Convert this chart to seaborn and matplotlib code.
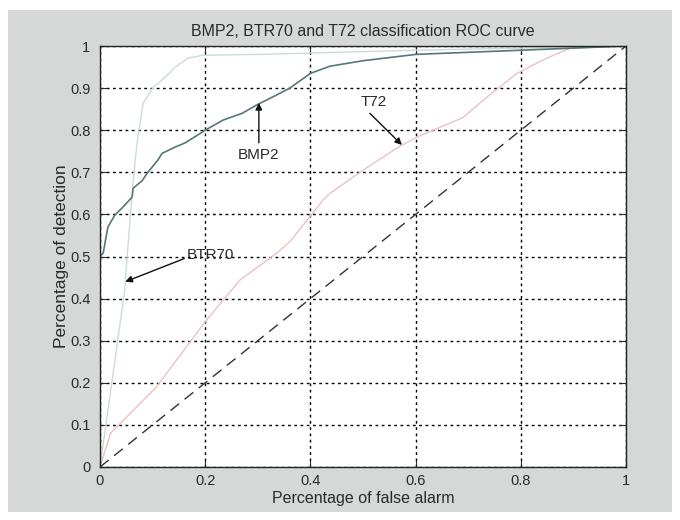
import matplotlib
matplotlib.use("Agg")
import matplotlib.pyplot as plt
import seaborn as sns
import pandas as pd
from matplotlib.patches import Rectangle

# ---- data ----
btr70_fa = [0, 0.047, 0.051, 0.061, 0.067, 0.072, 0.082, 0.1, 0.124, 0.143, 0.167, 0.194, 0.3, 0.45, 0.6, 0.8, 1.0]
btr70_pd = [0, 0.42, 0.49, 0.65, 0.73, 0.784, 0.864, 0.9, 0.926, 0.95, 0.971, 0.978, 0.98, 0.985, 0.99, 0.995, 1.0]

bmp2_fa = [0, 0, 0, 0.006, 0.015, 0.028, 0.044, 0.061, 0.063, 0.08, 0.091, 0.11, 0.118, 0.143, 0.162,
           0.18, 0.2, 0.234, 0.27, 0.298, 0.33, 0.361, 0.4, 0.437, 0.5, 0.6, 0.7, 0.8, 0.9, 1.0]
bmp2_pd = [0, 0.42, 0.5, 0.508, 0.57, 0.598, 0.618, 0.641, 0.662, 0.68, 0.70, 0.729, 0.745, 0.76, 0.77,
           0.784, 0.8, 0.824, 0.84, 0.86, 0.88, 0.9, 0.935, 0.952, 0.965, 0.98, 0.985, 0.99, 0.995, 1.0]

t72_fa = [0, 0.02, 0.107, 0.2, 0.266, 0.336, 0.361, 0.424, 0.437, 0.5, 0.565, 0.603, 0.69, 0.736, 0.793, 0.842, 0.894, 1.0]
t72_pd = [0, 0.08, 0.19, 0.345, 0.444, 0.508, 0.535, 0.634, 0.65, 0.705, 0.758, 0.784, 0.83, 0.879, 0.935, 0.967, 0.995, 1.0]

chance_fa = [0, 1]
chance_pd = [0, 1]

xticks = [0, 0.2, 0.4, 0.6, 0.8, 1]
xticklabels = ["0", "0.2", "0.4", "0.6", "0.8", "1"]
yticks = [0, 0.1, 0.2, 0.3, 0.4, 0.5, 0.6, 0.7, 0.8, 0.9, 1]
yticklabels = ["0", "0.1", "0.2", "0.3", "0.4", "0.5", "0.6", "0.7", "0.8", "0.9", "1"]

sns.set_style("ticks")
plt.rcParams["font.family"] = ["Liberation Sans", "DejaVu Sans"]

txt = "#2a2a2a"
fig = plt.figure(figsize=(6.8, 5.2), dpi=100)
fig.patch.set_facecolor("white")
fig.patches.append(Rectangle((8 / 680, 8 / 520), 664 / 680, 502 / 520, transform=fig.transFigure,
                             facecolor="#d6d8d8", edgecolor="none", zorder=-10))
ax = fig.add_axes([100 / 680, 53 / 520, 526 / 680, 421 / 520])
ax.set_facecolor("white")

sns.lineplot(x=chance_fa, y=chance_pd, ax=ax, color="#333333", linewidth=1.0,
             linestyle=(0, (8, 5)), sort=False, estimator=None)
sns.lineplot(x=t72_fa, y=t72_pd, ax=ax, color="#ebc2c2", linewidth=1.0, sort=False, estimator=None)
sns.lineplot(x=btr70_fa, y=btr70_pd, ax=ax, color="#cddbd6", linewidth=1.0, sort=False, estimator=None)
sns.lineplot(x=bmp2_fa, y=bmp2_pd, ax=ax, color="#557779", linewidth=1.2, sort=False, estimator=None)

ax.set_xlim(0, 1)
ax.set_ylim(0, 1)
ax.set_xticks(xticks)
ax.set_xticklabels(xticklabels)
ax.set_yticks(yticks)
ax.set_yticklabels(yticklabels)
ax.grid(True, color="black", linestyle=(0, (2, 2.5)), linewidth=1.0)
ax.tick_params(direction="in", top=True, right=True, labelsize=10.5, colors=txt, length=5)
ax.tick_params(axis="y", pad=7)
ax.tick_params(axis="x", pad=5)
for s in ax.spines.values():
    s.set_color("#222222")
    s.set_linewidth(1.0)

ax.set_title("BMP2, BTR70 and T72 classification ROC curve", fontsize=11.5, color=txt, pad=7)
ax.set_xlabel("Percentage of false alarm", fontsize=11.5, color=txt, labelpad=2)
ax.set_ylabel("Percentage of detection", fontsize=12.5, color=txt, labelpad=1)

arrow = dict(arrowstyle="-|>", color="#111111", lw=1.0, mutation_scale=10, shrinkA=0, shrinkB=0)
ax.annotate("", xy=(0.302, 0.865), xytext=(0.302, 0.77), arrowprops=arrow)
ax.text(0.302, 0.74, "BMP2", ha="center", va="center", fontsize=11, color=txt)
ax.annotate("", xy=(0.574, 0.765), xytext=(0.513, 0.84), arrowprops=arrow)
ax.text(0.52, 0.868, "T72", ha="center", va="center", fontsize=11, color=txt)
ax.annotate("", xy=(0.048, 0.44), xytext=(0.16, 0.495), arrowprops=arrow)
ax.text(0.21, 0.503, "BTR70", ha="center", va="center", fontsize=11, color=txt)

fig.savefig("out.png", dpi=100, facecolor=fig.get_facecolor())
